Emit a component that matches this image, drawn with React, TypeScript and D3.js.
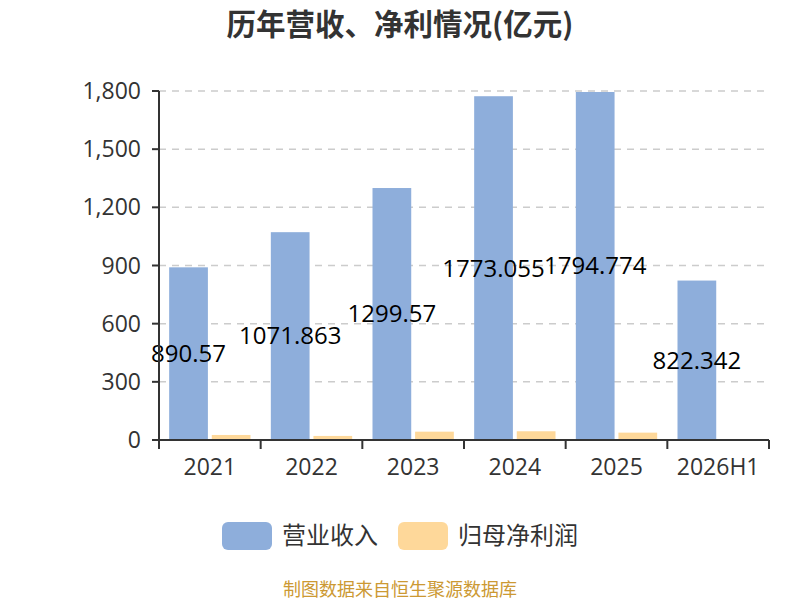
import React from 'react';
import * as d3 from 'd3';

const categories = ['2021', '2022', '2023', '2024', '2025', '2026H1'];
const revenue = [890.57, 1071.863, 1299.57, 1773.055, 1794.774, 822.342];
const netProfit = [26, 21, 43, 45, 38, 5];
const yTicks = [0, 300, 600, 900, 1200, 1500, 1800];
const seriesNames = ['营业收入', '归母净利润'];
const seriesColors = ['#8eaedb', '#fed89a'];

const FONT = '"Open Sans", "Noto Sans CJK SC", sans-serif';
const CJK = '"Noto Sans CJK SC", sans-serif';

export default function App() {
  const width = 800;
  const height = 600;
  const margin = { left: 159, right: 31, top: 91, bottom: 160 };

  const x = d3.scaleBand<string>()
    .domain(categories)
    .range([margin.left, width - margin.right])
    .padding(0);

  const bw = x.bandwidth();
  const inner = d3.scaleBand<string>()
    .domain(seriesNames)
    .range([bw * 0.1, bw * 0.9])
    .paddingInner(0.1 / 1.1);

  const y = d3.scaleLinear()
    .domain([0, 1800])
    .range([height - margin.bottom, margin.top]);

  const fmt = d3.format(',');
  const x0 = margin.left;
  const x1 = width - margin.right;
  const y0 = y(0);

  return (
    <svg
      width={width}
      height={height}
      style={{ position: 'absolute', left: 0, top: 0, fontFamily: FONT }}
    >
      <rect width={width} height={height} fill="#fff" />

      <text x={400} y={35} textAnchor="middle" fontSize={29.5} fontWeight="bold" fill="#333"
        fontFamily={CJK}>
        历年营收、净利情况(亿元)
      </text>

      {/* grid */}
      {yTicks.filter(t => t > 0).map(t => (
        <line key={t} x1={x0} x2={x1} y1={y(t)} y2={y(t)}
          stroke="#ccc" strokeWidth={1.5} strokeDasharray="7,6" />
      ))}

      {/* bars */}
      {categories.map((c, i) => (
        <g key={c} transform={`translate(${x(c)},0)`}>
          <rect x={inner(seriesNames[0])} width={inner.bandwidth()}
            y={y(revenue[i])} height={y0 - y(revenue[i])} fill={seriesColors[0]} />
          <rect x={inner(seriesNames[1])} width={inner.bandwidth()}
            y={y(netProfit[i])} height={y0 - y(netProfit[i])} fill={seriesColors[1]} />
        </g>
      ))}

      {/* labels */}
      {categories.map((c, i) => (
        <text key={c} x={(x(c) ?? 0) + (inner(seriesNames[0]) ?? 0) + inner.bandwidth() / 2}
          y={(y(revenue[i]) + y0) / 2} dy="0.35em" textAnchor="middle"
          fontSize={24} fill="#000">
          {revenue[i]}
        </text>
      ))}

      {/* y axis */}
      <line x1={x0} x2={x0} y1={margin.top} y2={y0} stroke="#333" strokeWidth={2} />
      {yTicks.map(t => (
        <g key={t}>
          <line x1={x0 - 7} x2={x0} y1={y(t)} y2={y(t)} stroke="#333" strokeWidth={2} />
          <text x={x0 - 18} y={y(t)} dy="0.35em" textAnchor="end" fontSize={23} fill="#333">
            {fmt(t)}
          </text>
        </g>
      ))}

      {/* x axis */}
      <line x1={x0} x2={x1} y1={y0} y2={y0} stroke="#333" strokeWidth={2} />
      {[...categories.map(c => x(c) ?? 0), x1].map((px, i) => (
        <line key={i} x1={px} x2={px} y1={y0} y2={y0 + 9} stroke="#333" strokeWidth={2} />
      ))}
      {categories.map(c => (
        <text key={c} x={(x(c) ?? 0) + bw / 2} y={y0 + 27} dy="0.35em" textAnchor="middle"
          fontSize={23} fill="#333">
          {c}
        </text>
      ))}

      {/* legend */}
      {seriesNames.map((s, i) => {
        const lx = i === 0 ? 222 : 398;
        return (
          <g key={s}>
            <rect x={lx} y={522} width={50} height={28} rx={6} fill={seriesColors[i]} />
            <text x={lx + 60} y={536} dy="0.35em" fontSize={24} fill="#333" fontFamily={CJK}>{s}</text>
          </g>
        );
      })}

      <text x={400} y={596} textAnchor="middle" fontSize={18} fill="#cc9933" fontFamily={CJK}>
        制图数据来自恒生聚源数据库
      </text>
    </svg>
  );
}
